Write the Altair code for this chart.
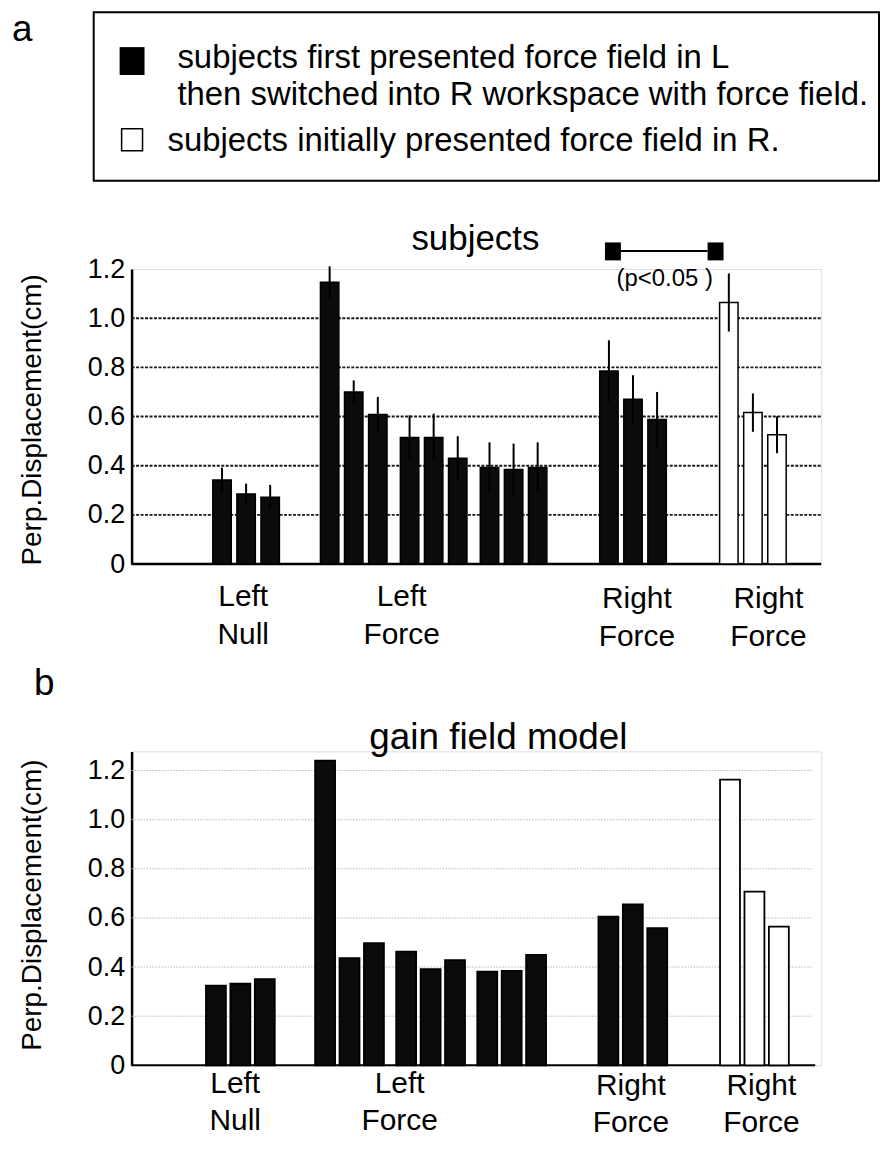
import altair as alt
import pandas as pd

# ---------------- data ----------------
group_labels = [["Left", "Null"], ["Left", "Force"], ["Right", "Force"], ["Right", "Force"]]
bars_per_group = [3, 9, 3, 3]
condition = ["L first, then R"] * 15 + ["R first"] * 3

subj_mean = [0.342, 0.285, 0.272,
             1.146, 0.700, 0.608, 0.515, 0.515, 0.430, 0.393, 0.385, 0.393,
             0.785, 0.670, 0.588,
             1.064, 0.616, 0.526]
subj_err = [0.050, 0.042, 0.050,
            0.065, 0.047, 0.072, 0.090, 0.097, 0.090, 0.102, 0.105, 0.102,
            0.125, 0.098, 0.112,
            0.118, 0.078, 0.075]
model_val = [0.324, 0.332, 0.351,
             1.240, 0.436, 0.497, 0.463, 0.392, 0.428, 0.381, 0.384, 0.450,
             0.605, 0.655, 0.558,
             1.163, 0.707, 0.565]

y_ticks = [0, 0.2, 0.4, 0.6, 0.8, 1.0, 1.2]
grid_a = [0.2, 0.4, 0.6, 0.8, 1.0]
grid_b = [0.2, 0.4, 0.6, 0.8, 1.0, 1.2]

legend_text = ["subjects first presented force field in L",
               "then switched into R workspace with force field.",
               "subjects initially presented force field in R."]
title_a = "subjects"
title_b = "gain field model"
y_title = "Perp.Displacement(cm)"
sig_text = "(p<0.05 )"

# ---------------- layout (bar slots in units of bar pitch) ----------------
group_start = [3.55, 8.02, 19.62, 24.6]
triplet_gap = 3.32
XMAX = 28.23
pos = []
for g, n in enumerate(bars_per_group):
    for k in range(n):
        pos.append(group_start[g] + (k // 3) * triplet_gap + (k % 3))

FONT = "Liberation Sans"
W = 692
HA = 296
HB = 315
X0 = 131.0      # page x of plot left
Y0A = 266.7     # page y of panel a plot top
Y0B = 750.7     # page y of panel b plot top

df_a = pd.DataFrame({"pos": pos, "v": subj_mean, "lo": [m - e for m, e in zip(subj_mean, subj_err)],
                     "hi": [m + e for m, e in zip(subj_mean, subj_err)], "cond": condition})
df_b = pd.DataFrame({"pos": pos, "v": model_val, "cond": condition})

xs_a = alt.Scale(domain=[0, XMAX], nice=False, zero=False)
xs_b = alt.Scale(domain=[0.3, 28.13], nice=False, zero=False)
label_expr = "datum.value == 0 ? '0' : format(datum.value, '.1f')"


def yaxis():
    return alt.Axis(values=y_ticks, labelExpr=label_expr, ticks=False, grid=False,
                    domainColor="black", domainWidth=2.5, labelFontSize=27, labelFont=FONT,
                    labelColor="black", labelPadding=7, title=None)


one = alt.Data(values=[{"k": 0}])


def txt(t, px, py, y0, size, align="center", angle=0):
    return alt.Chart(one).mark_text(text=t, align=align, baseline="middle", fontSize=size, font=FONT,
                                    color="black", angle=angle, lineHeight=38).encode(
        x=alt.value(px - X0), y=alt.value(py - y0))


def box(x1, y1, x2, y2, y0, fill, stroke=None, sw=0):
    kw = {"fill": fill}
    if stroke:
        kw.update(stroke=stroke, strokeWidth=sw)
    return alt.Chart(one).mark_rect(**kw).encode(
        x=alt.value(x1 - X0), x2=alt.value(x2 - X0), y=alt.value(y1 - y0), y2=alt.value(y2 - y0))


color_scale = alt.Scale(domain=["L first, then R", "R first"], range=["#0b0b0b", "white"])

# ---------------- panel a ----------------
ys_a = alt.Scale(domain=[0, 1.2], nice=False)
grid_layer_a = alt.Chart(pd.DataFrame({"g": grid_a})).mark_rule(
    color="#1a1a1a", strokeWidth=2, strokeDash=[3, 1.5]).encode(
    y=alt.Y("g:Q", scale=ys_a, axis=yaxis()), x=alt.value(0), x2=alt.value(W))
base_a = alt.Chart(pd.DataFrame({"g": [0]})).mark_rule(color="black", strokeWidth=2.5).encode(
    y=alt.Y("g:Q", scale=ys_a, axis=yaxis()), x=alt.value(0), x2=alt.value(W))
bars_a = alt.Chart(df_a).mark_bar(orient="vertical", width=18.5, stroke="black", strokeWidth=1.5).encode(
    x=alt.X("pos:Q", scale=xs_a, axis=None),
    y=alt.Y("v:Q", scale=ys_a, axis=yaxis(), stack=None),
    fill=alt.Fill("cond:N", scale=color_scale, legend=None))
err_a = alt.Chart(df_a).mark_rule(color="black", strokeWidth=2).encode(
    x=alt.X("pos:Q", scale=xs_a, axis=None),
    y=alt.Y("lo:Q", scale=ys_a, axis=yaxis()), y2="hi:Q")

ann_a = [
    box(8, 8, 9, 9, Y0A, "transparent"),
    box(93, 9, 881, 178, Y0A, "transparent", "black", 2),
    box(119, 44, 144, 72, Y0A, "black"),
    box(121, 126, 142, 148, Y0A, "white", "black", 1.5),
    txt("a", 11, 27, Y0A, 37, align="left"),
    txt(legend_text[0], 177, 55, Y0A, 33, align="left"),
    txt(legend_text[1], 177, 92, Y0A, 33, align="left"),
    txt(legend_text[2], 167, 138, Y0A, 33, align="left"),
    txt(title_a, 476, 237, Y0A, 35),
    box(606, 240, 622, 258, Y0A, "black"),
    box(709, 240, 725, 258, Y0A, "black"),
    alt.Chart(one).mark_rule(color="black", strokeWidth=2).encode(
        x=alt.value(622 - X0), x2=alt.value(709 - X0), y=alt.value(248.5 - Y0A)),
    txt(sig_text, 666, 277, Y0A, 24),
    txt(y_title, 32, 418, Y0A, 28, angle=270),
    txt(group_labels[0], 243, 596, Y0A, 30),
    txt(group_labels[1], 402, 596, Y0A, 30),
    txt(group_labels[2], 638, 598, Y0A, 30),
    txt(group_labels[3], 770, 598, Y0A, 30),
]

panel_a = alt.layer(grid_layer_a, base_a, bars_a, err_a, *ann_a).properties(width=W, height=HA)

# ---------------- panel b ----------------
ys_b = alt.Scale(domain=[0, 1.278], nice=False)
grid_layer_b = alt.Chart(pd.DataFrame({"g": grid_b})).mark_rule(
    color="#b5b5b5", strokeWidth=1, strokeDash=[1.5, 1.5]).encode(
    y=alt.Y("g:Q", scale=ys_b, axis=yaxis()), x=alt.value(0), x2=alt.value(W - 8))
base_b = alt.Chart(pd.DataFrame({"g": [0]})).mark_rule(color="black", strokeWidth=2).encode(
    y=alt.Y("g:Q", scale=ys_b, axis=yaxis()), x=alt.value(0), x2=alt.value(W - 6))
bars_b = alt.Chart(df_b).mark_bar(orient="vertical", width=20, stroke="black", strokeWidth=1.8).encode(
    x=alt.X("pos:Q", scale=xs_b, axis=None),
    y=alt.Y("v:Q", scale=ys_b, axis=yaxis(), stack=None),
    fill=alt.Fill("cond:N", scale=alt.Scale(domain=["L first, then R", "R first"],
                                            range=["#171717", "white"]), legend=None))

ann_b = [
    txt("b", 33, 683, Y0B, 37, align="left"),
    txt(title_b, 499, 737, Y0B, 37),
    txt(y_title, 32, 905, Y0B, 28, angle=270),
    txt(group_labels[0], 235, 1084, Y0B, 30),
    txt(group_labels[1], 400, 1084, Y0B, 30),
    txt(group_labels[2], 632, 1086, Y0B, 30),
    txt(group_labels[3], 763, 1086, Y0B, 30),
]

panel_b = alt.layer(grid_layer_b, base_b, bars_b, *ann_b).properties(width=W, height=HB)

chart = alt.vconcat(panel_a, panel_b, spacing=Y0B - Y0A - HA, bounds="flush").properties(
    padding=0).configure_view(stroke=None).configure(background="white")

chart.save("out.html", embed_options={"renderer": "svg", "actions": False})
